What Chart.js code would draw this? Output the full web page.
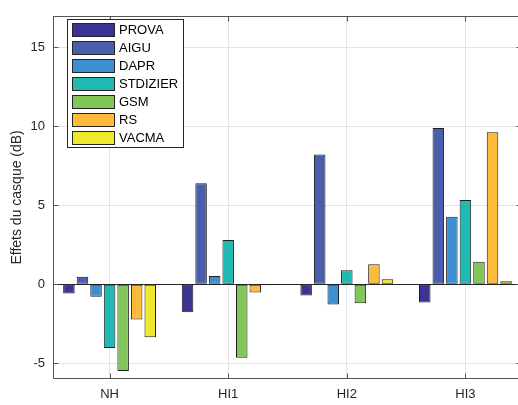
<!DOCTYPE html>
<html>
<head>
<meta charset="utf-8">
<script src="https://cdn.jsdelivr.net/npm/chart.js@4.4.0/dist/chart.umd.min.js"></script>
<style>
  html, body { margin: 0; padding: 0; background: #fff; overflow: hidden; }
  #wrap { width: 518px; height: 405px; overflow: hidden; }
</style>
</head>
<body>
<div id="wrap"><canvas id="chart" width="522" height="405"></canvas></div>
<script>
/* --------------- Data --------------------- */
const categories = ["NH", "HI1", "HI2", "HI3"];
const seriesNames = ["PROVA", "AIGU", "DAPR", "STDIZIER", "GSM", "RS", "VACMA"];

const prova = [-0.58, -1.78, -0.71, -1.16];
const aigu = [0.47, 6.40, 8.22, 9.89];
const dapr = [-0.79, 0.52, -1.29, 4.28];
const stdizier = [-4.04, 2.81, 0.89, 5.34];
const gsm = [-5.49, -4.66, -1.20, 1.43];
const rs = [-2.24, -0.52, 1.26, 9.63];
const vacma = [-3.35, -0.06, 0.31, 0.19];

const yTicks = [-5, 0, 5, 10, 15];
const xTicks = [1, 2, 3, 4]; // positions of categories

/* --------------- Colors (parula) --------------------- */
const barColors = ["#3b3494", "#4a5fab", "#3d8fd3", "#21b9b2", "#82c65a", "#fcbb3b", "#efe82b"];

const seriesValues = [prova, aigu, dapr, stdizier, gsm, rs, vacma];

const axisColor = "#555555";
const textColor = "#262626";
const fontFamily = "'Liberation Sans', Arial, Helvetica, sans-serif";

/* --------------- Axes box, ticks and baseline --------------------- */
const matlabAxes = {
  id: "matlabAxes",
  beforeDatasetsDraw(chart) {
    const { ctx, chartArea: a, scales } = chart;
    const y0 = Math.round(scales.y.getPixelForValue(0)) + 0.5;
    ctx.save();
    ctx.strokeStyle = "#262626";
    ctx.lineWidth = 1;
    ctx.beginPath();
    ctx.moveTo(a.left, y0);
    ctx.lineTo(a.right, y0);
    ctx.stroke();
    ctx.restore();
  },
  afterDatasetsDraw(chart) {
    const { ctx, chartArea: a, scales } = chart;
    const L = Math.round(a.left) + 0.5, R = Math.round(a.right) - 0.5;
    const T = Math.round(a.top) + 0.5, B = Math.round(a.bottom) - 0.5;
    ctx.save();
    ctx.strokeStyle = axisColor;
    ctx.lineWidth = 1;
    ctx.strokeRect(L, T, R - L, B - T);
    ctx.beginPath();
    xTicks.forEach((v) => {
      const x = Math.round(scales.x.getPixelForValue(v)) + 0.5;
      ctx.moveTo(x, B); ctx.lineTo(x, B - 5);
      ctx.moveTo(x, T); ctx.lineTo(x, T + 5);
    });
    yTicks.forEach((v) => {
      const y = Math.round(scales.y.getPixelForValue(v)) + 0.5;
      ctx.moveTo(L, y); ctx.lineTo(L + 5, y);
      ctx.moveTo(R, y); ctx.lineTo(R - 5, y);
    });
    ctx.stroke();
    ctx.restore();
  },
};

/* --------------- Legend box in upper left --------------------- */
const boxLegend = {
  id: "boxLegend",
  afterDraw(chart) {
    const { ctx } = chart;
    const left = 67.5, top = 19.5, width = 116, height = 128;
    ctx.save();
    ctx.fillStyle = "#ffffff";
    ctx.fillRect(left, top, width, height);
    ctx.strokeStyle = "#262626";
    ctx.lineWidth = 1;
    ctx.strokeRect(left, top, width, height);
    ctx.font = "13px " + fontFamily;
    ctx.textBaseline = "middle";
    ctx.textAlign = "left";
    chart.data.datasets.forEach((ds, i) => {
      const sy = 23 + i * 18;
      ctx.fillStyle = ds.backgroundColor;
      ctx.fillRect(72, sy, 43, 14);
      ctx.strokeStyle = "#262626";
      ctx.strokeRect(72.5, sy + 0.5, 42, 13);
      ctx.fillStyle = "#000000";
      ctx.fillText(ds.label, 119, sy + 7.5);
    });
    ctx.restore();
  },
};

/* --------------- Chart --------------------- */
const datasets = seriesNames.map((name, i) => ({
  label: name,
  data: seriesValues[i],
  backgroundColor: barColors[i],
  borderColor: "#1f1f1f",
  borderWidth: 1,
  borderSkipped: false,
  categoryPercentage: 0.8,
  barPercentage: 0.85,
}));

new Chart(document.getElementById("chart"), {
  type: "bar",
  data: { labels: xTicks, datasets: datasets },
  plugins: [matlabAxes, boxLegend],
  options: {
    responsive: false,
    animation: false,
    layout: { padding: { top: 9, right: 0, left: 0, bottom: 0 } },
    plugins: {
      legend: { display: false },
      tooltip: { enabled: false },
    },
    scales: {
      x: {
        type: "linear",
        offset: false,
        min: 0.523,
        max: 4.477,
        afterBuildTicks: (s) => { s.ticks = xTicks.map((v) => ({ value: v })); },
        afterFit: (s) => { s.height = 26; },
        grid: { color: "#e3e3e3", drawTicks: false, offset: false },
        border: { display: false },
        ticks: {
          padding: 8,
          color: textColor,
          font: { family: fontFamily, size: 13 },
          maxRotation: 0,
          callback: (v) => categories[Math.round(v) - 1],
        },
      },
      y: {
        min: -6,
        max: 17,
        afterBuildTicks: (s) => { s.ticks = yTicks.map((v) => ({ value: v })); },
        afterFit: (s) => { s.width = 53; },
        grid: { color: "#e3e3e3", drawTicks: false },
        border: { display: false },
        ticks: {
          padding: 8,
          color: textColor,
          font: { family: fontFamily, size: 13 },
        },
        title: {
          display: true,
          text: "Effets du casque (dB)",
          color: textColor,
          font: { family: fontFamily, size: 14 },
          padding: { top: 9, bottom: 0 },
        },
      },
    },
  },
});
</script>
</body>
</html>
